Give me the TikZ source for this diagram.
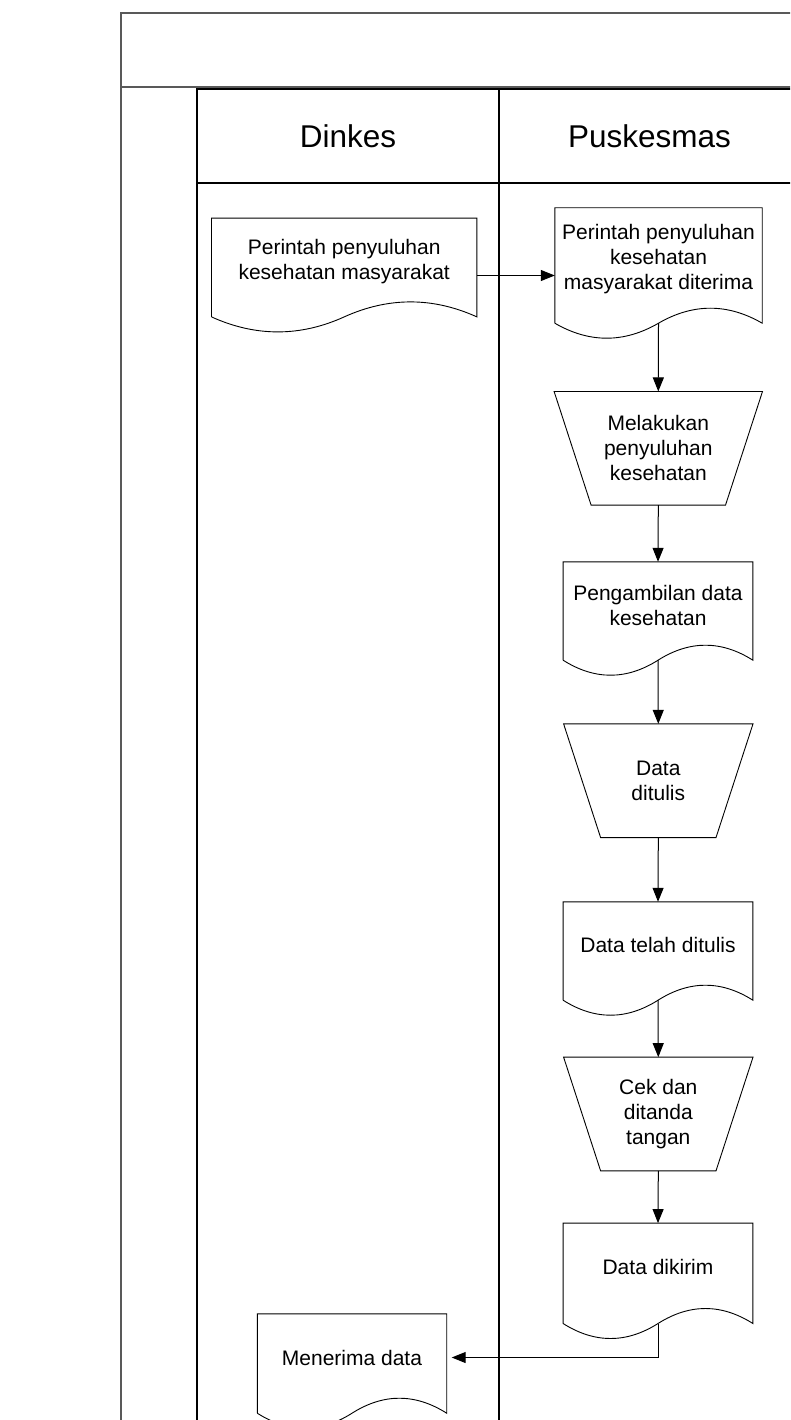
\documentclass[tikz,border=0pt]{standalone}
\usepackage{fontspec}
\setmainfont{Liberation Sans}
\usetikzlibrary{arrows.meta, calc}
\newcommand{\bodyfont}{\fontsize{21}{25}\selectfont}
\newcommand{\lanefont}{\fontsize{31.5}{36}\selectfont}
\tikzstyle{docbox}=[rectangle, inner sep=0pt, align=center, font=\bodyfont]
\tikzstyle{procbox}=[rectangle, minimum height=113.3pt, inner sep=0pt, align=center, font=\bodyfont]
\tikzstyle{shapeline}=[line width=0.9pt]
\tikzstyle{flow}=[line width=1pt, -{Triangle[length=14pt,width=11pt]}]
\tikzstyle{frameline}=[line width=2pt, black!65]
\tikzstyle{laneline}=[line width=1.1pt]
\newcommand{\docnode}{\node[docbox]}
\newcommand{\procnode}{\node[procbox]}
% document outline: sides run 12pt below the text box, wave under it
\newcommand{\docwave}[1]{%
  \coordinate (#1-tail) at ([yshift=-12pt]#1.south);
  \coordinate (#1-l) at ([yshift=-12pt]#1.south west);
  \coordinate (#1-r) at ([yshift=-12pt]#1.south east);
  \draw[shapeline] (#1-l) -- (#1.north west) -- (#1.north east) -- (#1-r)
    .. controls ($(#1-r)!0.333!(#1-tail)+(0,-20)$) and ($(#1-tail)!0.333!(#1-r)+(0,-20)$) .. (#1-tail)
    .. controls ($(#1-tail)!0.333!(#1-l)+(0,20)$) and ($(#1-l)!0.333!(#1-tail)+(0,20)$) .. (#1-l);}
% manual operation outline
\newcommand{\procedge}[1]{%
  \draw[shapeline] (#1.north west) -- (#1.north east) -- ([xshift=-37pt]#1.south east)
    -- ([xshift=37pt]#1.south west) -- cycle;}

\begin{document}
\begin{tikzpicture}[x=1pt, y=-1pt]
\useasboundingbox (0,0) rectangle (790,1420);
\clip (0,0) rectangle (790,1420);
% pool and lanes
\draw[frameline] (121,1440) -- (121,12.7) -- (830,12.7);
\draw[frameline] (121,87.5) -- (830,87.5);
\draw[laneline] (197,1440) -- (197,89) -- (830,89);
\draw[laneline] (499,89) -- (499,1440);
\draw[laneline] (197,183) -- (830,183);
\node[font=\lanefont] (dinkes) at (348,136) {Dinkes};
\node[font=\lanefont] (puskesmas) at (649.5,136) {Puskesmas};

\docnode[minimum width=265pt, minimum height=86.4pt] (perintah) at (344.2,261.5) {Perintah penyuluhan\\kesehatan masyarakat};
\docnode[minimum width=207pt, minimum height=103pt] (diterima) at (658.5,259.5) {Perintah penyuluhan\\kesehatan\\masyarakat diterima};
\procnode[minimum width=208pt] (melakukan) at (658.3,448.3) {Melakukan\\penyuluhan\\kesehatan};
\docnode[minimum width=189.4pt, minimum height=86pt] (pengambilan) at (658,605) {Pengambilan data\\kesehatan};
\procnode[minimum width=189pt] (ditulis) at (658.3,780.7) {Data\\ditulis};
\docnode[minimum width=189.4pt, minimum height=86pt] (telah) at (658,945) {Data telah ditulis};
\procnode[minimum width=189pt] (cekdan) at (658.3,1114) {Cek dan\\ditanda\\tangan};
\docnode[minimum width=189.4pt, minimum height=88pt] (dikirim) at (658,1267.3) {Data dikirim};
\docnode[minimum width=189pt, minimum height=87pt] (menerima) at (352,1357.5) {Menerima data};
\foreach \d in {perintah, diterima, pengambilan, telah, dikirim, menerima}
  \docwave{\d};
\foreach \p in {melakukan, ditulis, cekdan}
  \procedge{\p};

\path[flow]
  ([yshift=-14pt]perintah.east) edge ([yshift=-14pt]perintah.east -| diterima.west)
  (diterima-tail) edge (melakukan.north)
  (melakukan.south) edge (pengambilan.north)
  (pengambilan-tail) edge (ditulis.north)
  (ditulis.south) edge (telah.north)
  (telah-tail) edge (cekdan.north)
  (cekdan.south) edge (dikirim.north)
;
\draw[flow, shorten >=5pt] (dikirim-tail) |- (menerima.east);
\end{tikzpicture}
\end{document}
